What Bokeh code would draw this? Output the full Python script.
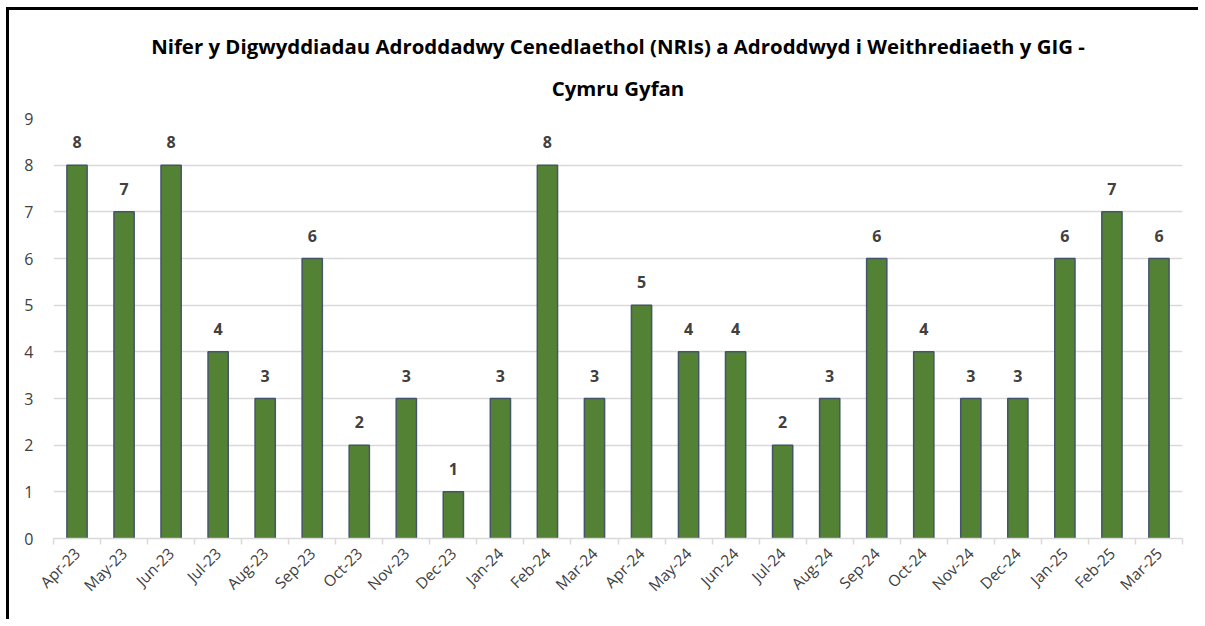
from bokeh.plotting import figure
from bokeh.models import ColumnDataSource, Range1d, FixedTicker, Title
from bokeh.core.properties import value
from bokeh.embed import file_html
from bokeh.resources import INLINE
import math

months = ["Apr-23", "May-23", "Jun-23", "Jul-23", "Aug-23", "Sep-23", "Oct-23", "Nov-23",
          "Dec-23", "Jan-24", "Feb-24", "Mar-24", "Apr-24", "May-24", "Jun-24", "Jul-24",
          "Aug-24", "Sep-24", "Oct-24", "Nov-24", "Dec-24", "Jan-25", "Feb-25", "Mar-25"]
counts = [8, 7, 8, 4, 3, 6, 2, 3, 1, 3, 8, 3, 5, 4, 4, 2, 3, 6, 4, 3, 3, 6, 7, 6]
y_ticks = [0, 1, 2, 3, 4, 5, 6, 7, 8, 9]
title_lines = ["Nifer y Digwyddiadau Adroddadwy Cenedlaethol (NRIs) a Adroddwyd i Weithrediaeth y GIG -",
               "Cymru Gyfan"]

FONT = "Open Sans"
n = len(months)
idx = list(range(n))
src = ColumnDataSource(dict(x=idx, y=counts, lab=[str(c) for c in counts]))

p = figure(width=1192, height=612, output_backend="svg", toolbar_location=None,
           x_range=Range1d(-0.5, n - 0.5), y_range=Range1d(0, 9),
           min_border_left=44, min_border_right=19, min_border_top=108, min_border_bottom=84)
p.styles = {"box-shadow": "-3px -3px 0px 0px black",
            "margin-left": "9px", "margin-top": "10px"}
p.outline_line_color = None

p.vbar(x="x", top="y", width=0.43, source=src, fill_color="#548235",
       line_color="#44546a", line_width=1.5)
p.text(x="x", y="y", text="lab", source=src, text_align="center", text_baseline="middle",
       y_offset=-23, text_font=value(FONT), text_font_style="bold", text_font_size="16px",
       text_color="#404040")

p.xaxis.ticker = FixedTicker(ticks=idx, minor_ticks=[i - 0.5 for i in range(n + 1)])
p.xaxis.major_label_overrides = {i: m for i, m in enumerate(months)}
p.xaxis.major_label_orientation = math.pi / 4
p.xaxis.major_tick_line_color = None
p.xaxis.minor_tick_line_color = "#d9d9d9"
p.xaxis.minor_tick_line_width = 1.5
p.xaxis.minor_tick_out = 6
p.xaxis.minor_tick_in = 0
p.xaxis.axis_line_color = "#d9d9d9"
p.xaxis.axis_line_width = 1.5
p.xaxis.major_label_text_font = FONT
p.xaxis.major_label_text_font_size = "15.5px"
p.xaxis.major_label_text_color = "#404040"
p.xaxis.major_label_standoff = 6

p.yaxis.ticker = FixedTicker(ticks=y_ticks)
p.yaxis.axis_line_color = None
p.yaxis.major_tick_line_color = None
p.yaxis.minor_tick_line_color = None
p.yaxis.major_label_text_font = FONT
p.yaxis.major_label_text_font_size = "16px"
p.yaxis.major_label_text_color = "#404040"
p.yaxis.major_label_standoff = 14

p.xgrid.grid_line_color = None
p.ygrid.ticker = FixedTicker(ticks=y_ticks)
p.ygrid.grid_line_color = "#d9d9d9"
p.ygrid.grid_line_width = 1.5

p.title = None
p.add_layout(Title(text=title_lines[1], align="center", text_font=FONT, text_font_style="bold",
                   text_font_size="20.4px", text_color="#000000", standoff=33), "above")
p.add_layout(Title(text=title_lines[0], align="center", text_font=FONT, text_font_style="bold",
                   text_font_size="20.4px", text_color="#000000", standoff=-9), "above")

open("out.html", "w").write(file_html(p, INLINE))
